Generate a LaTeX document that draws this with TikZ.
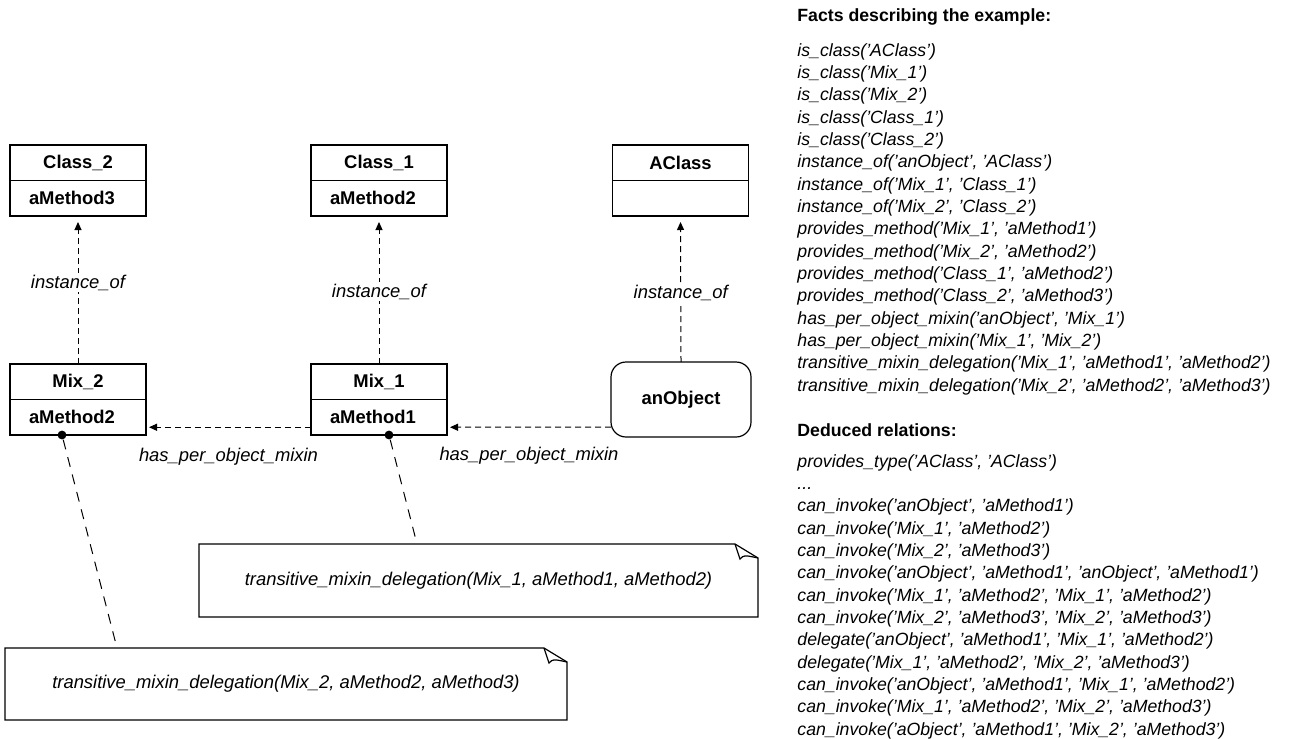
\documentclass[tikz,border=0pt]{standalone}
\usepackage{fontspec}
\setmainfont{Liberation Sans}
\usetikzlibrary{positioning,arrows.meta}

\newcommand{\fsz}{\fontsize{9.2}{11.17}\selectfont}
\newcommand{\fctsz}{\fontsize{8.85}{11.17}\selectfont}
\newcommand{\dognote}[1]{%
\draw [line width=0.6pt] (#1.south west) -- (#1.north west) -- ([xshift=-11.5pt]#1.north east) -- ([yshift=-7pt]#1.north east) -- (#1.south east) -- cycle;
\draw [line width=0.6pt] ([xshift=-11.5pt]#1.north east) -- ([xshift=-9pt,yshift=-7.5pt]#1.north east) .. controls ([xshift=-7pt,yshift=-5.5pt]#1.north east) .. ([yshift=-7pt]#1.north east);}

\tikzset{
box/.style={draw, line width=0.6pt, outer sep=0pt, inner sep=0pt, minimum width=68pt, minimum height=17.75pt, font=\fsz\bfseries},
meth/.style={box, text width=49pt, inner xsep=9.5pt, align=left},
dep/.style={dash pattern=on 3pt off 2pt, line width=0.5pt, -{Triangle[length=4pt,width=3.5pt]}, shorten >=3pt},
lbl/.style={fill=white, inner sep=1pt, font=\fsz\itshape},
note/.style={outer sep=0pt, minimum width=279.5pt, minimum height=36.5pt, font=\fsz\itshape},
dot/.style={circle, fill, inner sep=0pt, minimum size=4.4pt},
facts/.style={anchor=north west, align=left, inner sep=0pt, font=\fctsz\itshape}
}

\begin{document}
\begin{tikzpicture}[x=0.5pt, y=-0.5pt]
\useasboundingbox (0,0) rectangle (1304,738);

\node [box] (c2) at (78,162.75) {Class\_2};
\node [meth, below=0pt of c2] (c2m) {aMethod3};
\node [box] (c1) at (379,162.75) {Class\_1};
\node [meth, below=0pt of c1] (c1m) {aMethod2};
\node [box] (ac) at (680.5,162.75) {AClass};
\node [meth, below=0pt of ac] (acm) {};
\node [box] (m2) at (78,381.75) {Mix\_2};
\node [meth, below=0pt of m2] (m2m) {aMethod2};
\node [box] (m1) at (379,381.75) {Mix\_1};
\node [meth, below=0pt of m1] (m1m) {aMethod1};
\node [draw, line width=0.6pt, rounded corners=7.5pt, outer sep=0pt, minimum width=70pt, minimum height=37.5pt, font=\fsz\bfseries] (obj) at (681,399.5) {anObject};

\draw [dep] (m2.north) -- node [lbl, pos=0.55] (io2) {instance\_of} (c2m.south);
\draw [dep] (m1.north) -- node [lbl, pos=0.49] (io1) {instance\_of} (c1m.south);
\draw [dep] (obj.north) -- node [lbl, pos=0.47] (io0) {instance\_of} (acm.south);
\draw [dep, shorten >=1.5pt] ([yshift=-5pt]m1m.west) -- node [lbl, below=9pt, pos=0.5] (hm2) {has\_per\_object\_mixin} ([yshift=-5pt]m2m.east);
\draw [dep, shorten >=1.5pt] ([yshift=-13.75pt]obj.west) -- node [lbl, below=9pt, pos=0.5] (hm1) {has\_per\_object\_mixin} ([yshift=-5pt]m1m.east);

\node [note] (n1) at (478.5,580.5) {transitive\_mixin\_delegation(Mix\_1, aMethod1, aMethod2)};
\node [note, minimum width=281pt, minimum height=36pt] (n2) at (286,684) {transitive\_mixin\_delegation(Mix\_2, aMethod2, aMethod3)};
\dognote{n1}
\dognote{n2}
\node [dot] (d2) at ([xshift=-8pt]m2m.south) {};
\node [dot] (d1) at ([xshift=5pt]m1m.south) {};
\coordinate (t2) at ([xshift=56pt]n2.north west);
\coordinate (t1) at ([xshift=109pt]n1.north west);
\draw [dash pattern=on 5pt off 4pt, line width=0.5pt] (d2) -- (t2);
\draw [dash pattern=on 5pt off 4pt, line width=0.5pt] (d1) -- (t1);

\node [anchor=west, inner sep=0pt, font=\fctsz\bfseries] (fhead) at (797,17) {Facts describing the example:};
\node [facts] (flist) at (797,43) {is\_class('AClass')\\
is\_class('Mix\_1')\\
is\_class('Mix\_2')\\
is\_class('Class\_1')\\
is\_class('Class\_2')\\
instance\_of('anObject', 'AClass')\\
instance\_of('Mix\_1', 'Class\_1')\\
instance\_of('Mix\_2', 'Class\_2')\\
provides\_method('Mix\_1', 'aMethod1')\\
provides\_method('Mix\_2', 'aMethod2')\\
provides\_method('Class\_1', 'aMethod2')\\
provides\_method('Class\_2', 'aMethod3')\\
has\_per\_object\_mixin('anObject', 'Mix\_1')\\
has\_per\_object\_mixin('Mix\_1', 'Mix\_2')\\
transitive\_mixin\_delegation('Mix\_1', 'aMethod1', 'aMethod2')\\
transitive\_mixin\_delegation('Mix\_2', 'aMethod2', 'aMethod3')};
\node [anchor=west, inner sep=0pt, font=\fctsz\bfseries] (dhead) at (797,430) {Deduced relations:};
\node [facts] (dlist) at (797,454) {provides\_type('AClass', 'AClass')\\
...\\
can\_invoke('anObject', 'aMethod1')\\
can\_invoke('Mix\_1', 'aMethod2')\\
can\_invoke('Mix\_2', 'aMethod3')\\
can\_invoke('anObject', 'aMethod1', 'anObject', 'aMethod1')\\
can\_invoke('Mix\_1', 'aMethod2', 'Mix\_1', 'aMethod2')\\
can\_invoke('Mix\_2', 'aMethod3', 'Mix\_2', 'aMethod3')\\
delegate('anObject', 'aMethod1', 'Mix\_1', 'aMethod2')\\
delegate('Mix\_1', 'aMethod2', 'Mix\_2', 'aMethod3')\\
can\_invoke('anObject', 'aMethod1', 'Mix\_1', 'aMethod2')\\
can\_invoke('Mix\_1', 'aMethod2', 'Mix\_2', 'aMethod3')\\
can\_invoke('aObject', 'aMethod1', 'Mix\_2', 'aMethod3')};
\end{tikzpicture}
\end{document}
